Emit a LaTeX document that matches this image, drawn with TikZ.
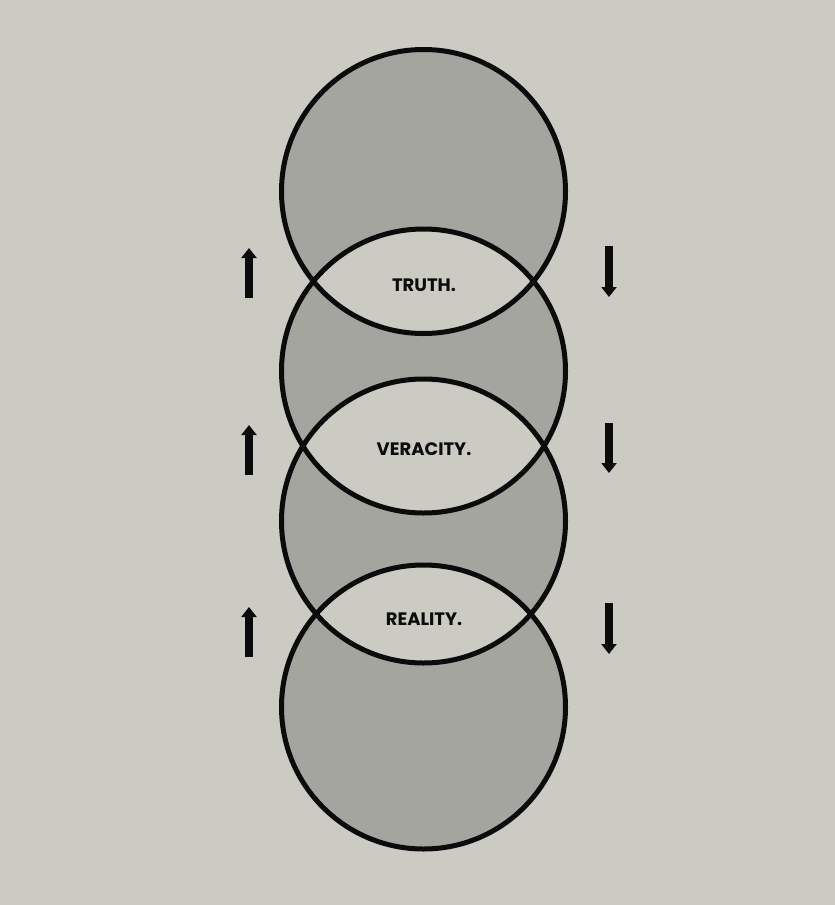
\documentclass[tikz,border=0pt]{standalone}
\usepackage{fontspec}
\setmainfont{Poppins}
\usepackage{tikz}
\usetikzlibrary{arrows.meta}
\definecolor{fondo}{HTML}{CBCBC4}
\definecolor{disco}{HTML}{A4A59E}
\definecolor{tinta}{HTML}{0B0B0B}

\begin{document}
\begin{tikzpicture}[x=1pt,y=-1pt,
  borde/.style={draw=tinta,line width=5pt},
  flecha/.style={draw=tinta,line width=8pt,-{Triangle[length=10pt,width=15pt]}},
  lema/.style={font=\fontsize{18}{20}\selectfont\bfseries,text=tinta,inner sep=0pt}]
\useasboundingbox[fill=fondo] (0,0) rectangle (835,905);
% four discs, lenses left light
\fill[disco,even odd rule] (423.5,191.5) circle (142) (423.5,371) circle (142)
  (423.5,521) circle (142) (423.5,707) circle (142);
\foreach \y/\n in {191.5/a, 371/b, 521/c, 707/d}{
  \coordinate (c\n) at (423.5,\y);
  \draw[borde] (c\n) circle (142);
}
\node[lema] (truth) at (424,285) {TRUTH.};
\node[lema] (veracity) at (424,449) {VERACITY.};
\node[lema] (reality) at (424,619) {REALITY.};
% side arrows
\foreach \a/\b/\i in {298/248/1, 475/425/2, 657/607/3}{
  \coordinate (up\i s) at (249,\a);
  \coordinate (up\i e) at (249,\b);
  \draw[flecha] (up\i s) -- (up\i e);
}
\foreach \a/\b/\i in {246/297/1, 423/473/2, 603/654/3}{
  \coordinate (dn\i s) at (609,\a);
  \coordinate (dn\i e) at (609,\b);
  \draw[flecha] (dn\i s) -- (dn\i e);
}
\end{tikzpicture}
\end{document}
